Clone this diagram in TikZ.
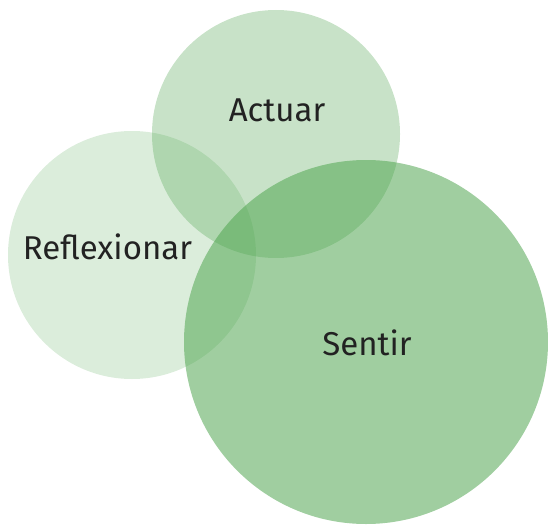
\documentclass[tikz,border=0pt]{standalone}
\usepackage{fontspec}
\setmainfont{Fira Sans}
\definecolor{basegreen}{rgb}{0.30,0.64,0.30}
\definecolor{labeltext}{HTML}{222222}
\tikzset{
  blob/.style={fill=basegreen, draw=none},
  lbl/.style={text=labeltext, font=\fontsize{33}{36}\selectfont, inner sep=0pt}
}
\begin{document}
\begin{tikzpicture}[x=1pt,y=-1pt]
\useasboundingbox (0,0) rectangle (548,524);
\fill[blob, fill opacity=0.20] (132,255) circle (124);
\fill[blob, fill opacity=0.31] (276,134) circle (124);
\fill[blob, fill opacity=0.53] (366,342) circle (182);
\node[lbl] (reflexionar) at (107.5,247) {Reflexionar};
\node[lbl] (actuar) at (277,110) {Actuar};
\node[lbl] (sentir) at (367,343) {Sentir};
\end{tikzpicture}
\end{document}
